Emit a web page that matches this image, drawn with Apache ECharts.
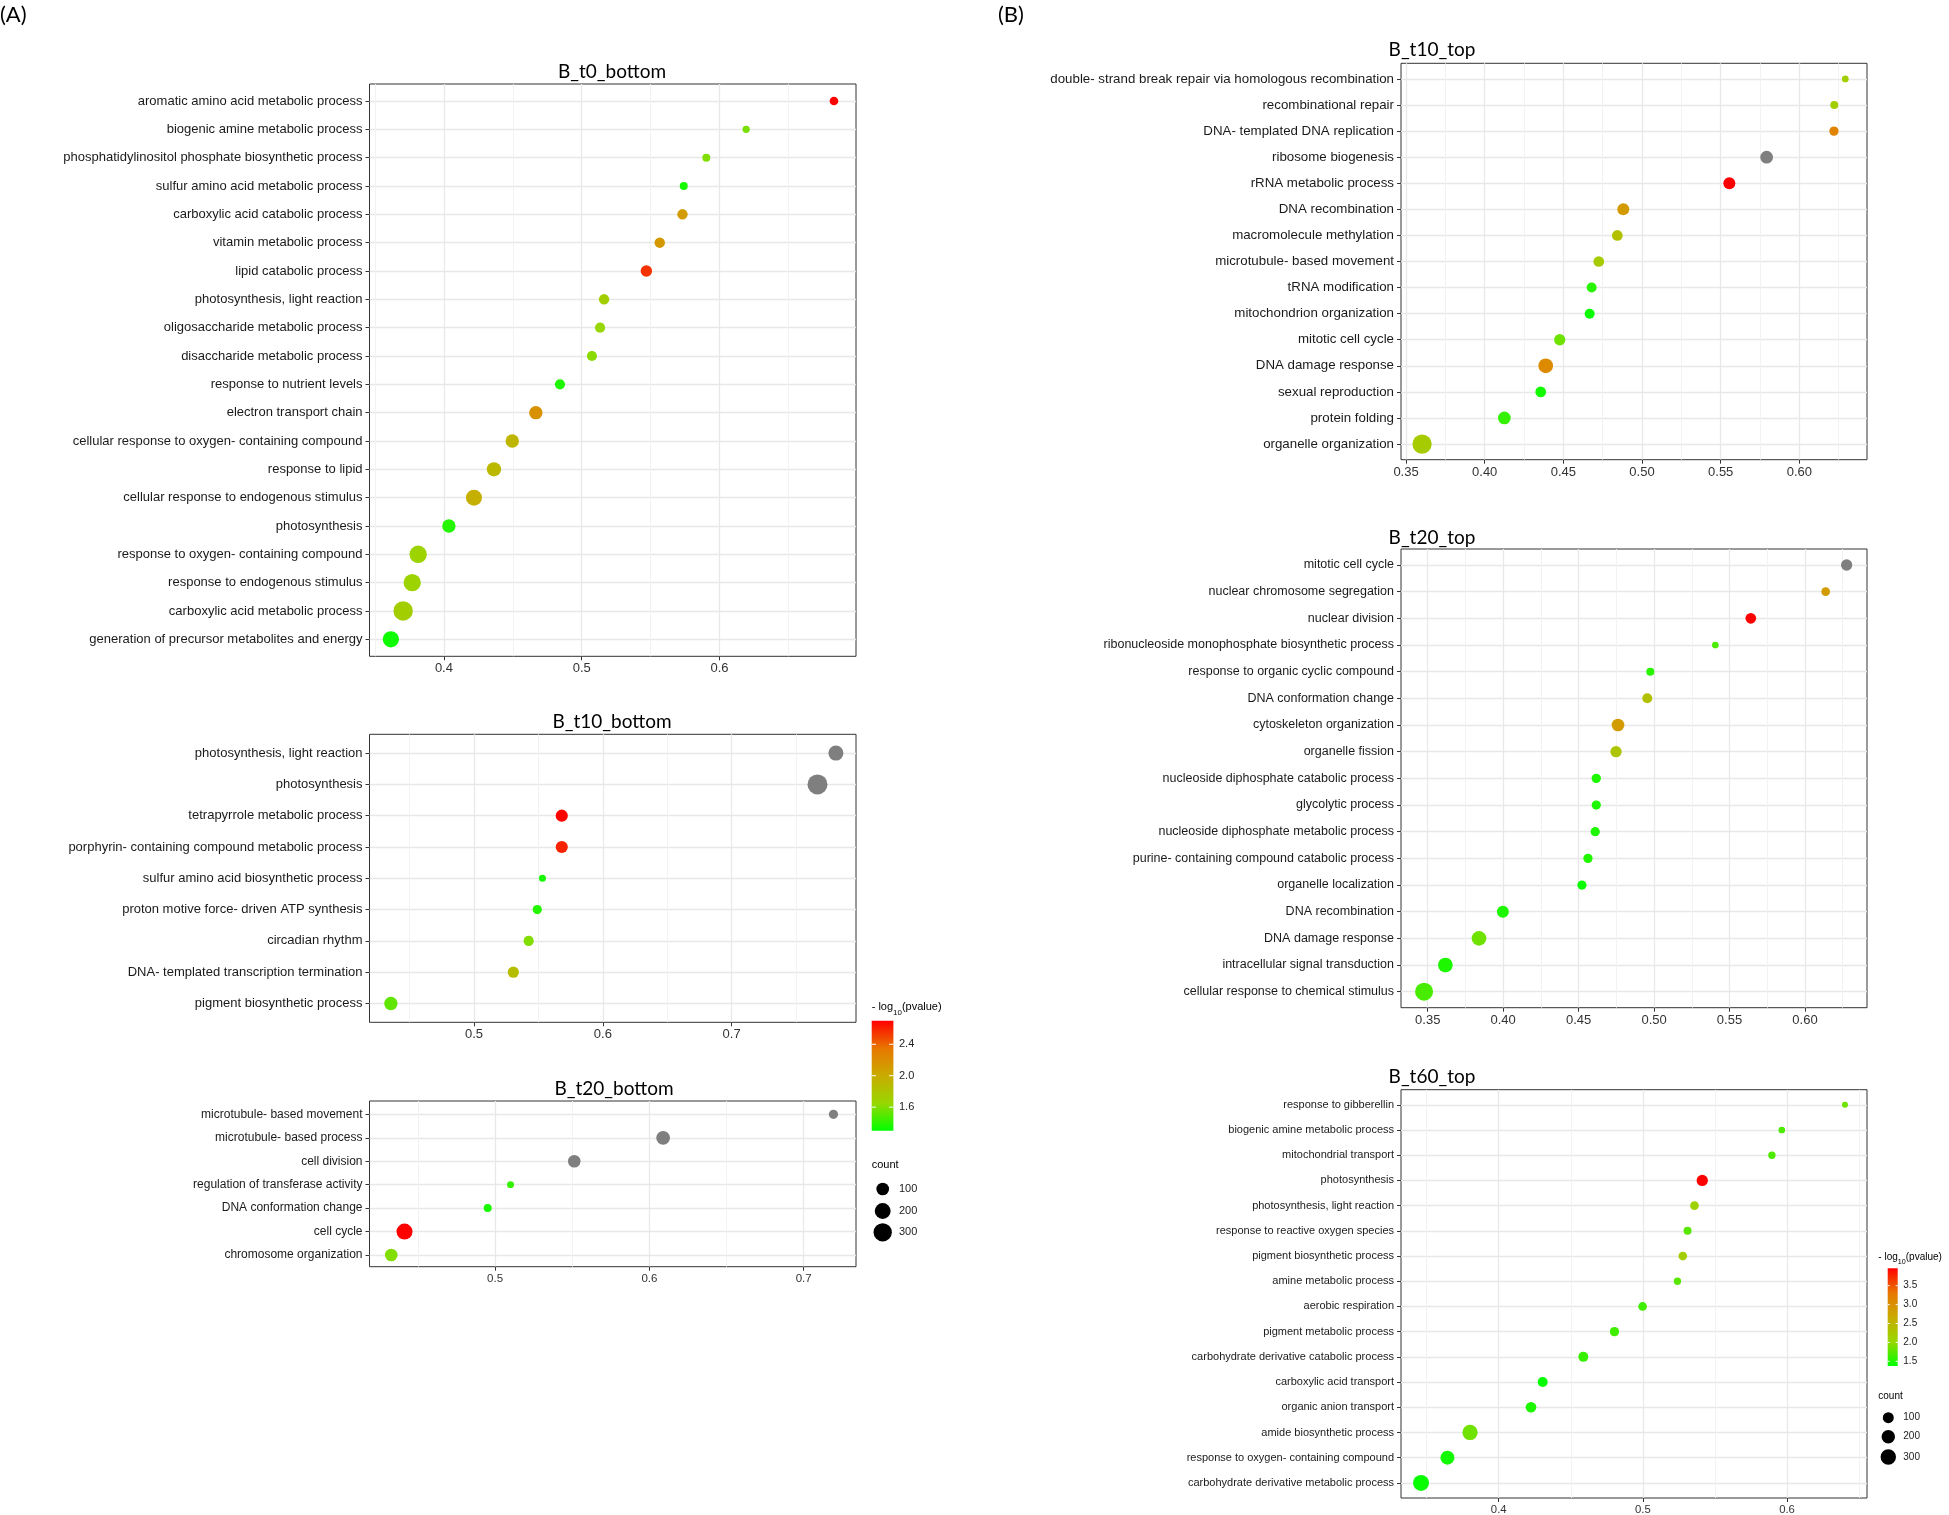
<!DOCTYPE html>
<html>
<head>
<meta charset="utf-8">
<script src="https://cdn.jsdelivr.net/npm/echarts@6/dist/echarts.min.js"></script>
<style>html,body{margin:0;padding:0;background:#fff}#c{width:1949px;height:1515px}</style>
</head>
<body>
<div id="c"></div>
<script>
// ---------------- DATA ----------------
// (A) B_t0_bottom
const t0bTerms = ["aromatic amino acid metabolic process","biogenic amine metabolic process","phosphatidylinositol phosphate biosynthetic process","sulfur amino acid metabolic process","carboxylic acid catabolic process","vitamin metabolic process","lipid catabolic process","photosynthesis, light reaction","oligosaccharide metabolic process","disaccharide metabolic process","response to nutrient levels","electron transport chain","cellular response to oxygen- containing compound","response to lipid","cellular response to endogenous stimulus","photosynthesis","response to oxygen- containing compound","response to endogenous stimulus","carboxylic acid metabolic process","generation of precursor metabolites and energy"];
const t0bRatio = [0.683,0.6193,0.5904,0.574,0.5731,0.5566,0.5469,0.5162,0.5133,0.5074,0.4842,0.4667,0.4496,0.4363,0.4218,0.4036,0.3813,0.377,0.3704,0.3615];
const t0bCount = [23,9,15,15,50,50,70,50,45,45,45,119,119,146,204,119,259,255,350,215];
const t0bLogP = [2.70,1.58,1.60,1.35,2.10,2.12,2.55,1.72,1.65,1.62,1.37,2.17,1.92,1.90,1.97,1.38,1.68,1.68,1.72,1.33];

// (A) B_t10_bottom  (null = outside colour scale, drawn grey)
const t10bTerms = ["photosynthesis, light reaction","photosynthesis","tetrapyrrole metabolic process","porphyrin- containing compound metabolic process","sulfur amino acid biosynthetic process","proton motive force- driven ATP synthesis","circadian rhythm","DNA- templated transcription termination","pigment biosynthetic process"];
const t10bRatio = [0.781,0.7667,0.5681,0.5681,0.5531,0.5491,0.5424,0.5305,0.4354];
const t10bCount = [169,380,87,87,7,30,46,65,116];
const t10bLogP = [null,null,2.70,2.60,1.35,1.38,1.60,1.86,1.52];

// (A) B_t20_bottom
const t20bTerms = ["microtubule- based movement","microtubule- based process","cell division","regulation of transferase activity","DNA conformation change","cell cycle","chromosome organization"];
const t20bRatio = [0.7193,0.6089,0.5513,0.51,0.4952,0.4413,0.4327];
const t20bCount = [30,131,97,6,15,204,97];
const t20bLogP = [null,null,null,1.42,1.35,2.70,1.60];

// (B) B_t10_top
const t10tTerms = ["double- strand break repair via homologous recombination","recombinational repair","DNA- templated DNA replication","ribosome biogenesis","rRNA metabolic process","DNA recombination","macromolecule methylation","microtubule- based movement","tRNA modification","mitochondrion organization","mitotic cell cycle","DNA damage response","sexual reproduction","protein folding","organelle organization"];
const t10tRatio = [0.6292,0.6222,0.622,0.5792,0.5555,0.4881,0.4843,0.4725,0.468,0.4667,0.4477,0.4388,0.4356,0.4125,0.3602];
const t10tCount = [8,25,51,165,136,136,90,90,69,69,110,261,90,165,568];
const t10tLogP = [2.15,2.15,3.15,null,3.96,2.88,2.36,2.2,1.55,1.42,1.85,3.06,1.45,1.6,2.2];

// (B) B_t20_top
const t20tTerms = ["mitotic cell cycle","nuclear chromosome segregation","nuclear division","ribonucleoside monophosphate biosynthetic process","response to organic cyclic compound","DNA conformation change","cytoskeleton organization","organelle fission","nucleoside diphosphate catabolic process","glycolytic process","nucleoside diphosphate metabolic process","purine- containing compound catabolic process","organelle localization","DNA recombination","DNA damage response","intracellular signal transduction","cellular response to chemical stimulus"];
const t20tRatio = [0.6276,0.6137,0.5641,0.5406,0.4975,0.4955,0.4761,0.4748,0.4617,0.4617,0.461,0.4562,0.4522,0.3998,0.384,0.3617,0.3476];
const t20tCount = [110,38,90,8,25,69,165,110,51,51,51,51,51,136,261,261,469];
const t20tLogP = [null,2.85,3.96,1.7,1.55,2.35,2.85,2.3,1.5,1.5,1.5,1.52,1.42,1.5,1.85,1.5,1.68];

// (B) B_t60_top
const t60tTerms = ["response to gibberellin","biogenic amine metabolic process","mitochondrial transport","photosynthesis","photosynthesis, light reaction","response to reactive oxygen species","pigment biosynthetic process","amine metabolic process","aerobic respiration","pigment metabolic process","carbohydrate derivative catabolic process","carboxylic acid transport","organic anion transport","amide biosynthetic process","response to oxygen- containing compound","carbohydrate derivative metabolic process"];
const t60tRatio = [0.6402,0.5964,0.5895,0.5412,0.5358,0.531,0.5277,0.524,0.4998,0.4803,0.4587,0.4305,0.4224,0.3801,0.3644,0.3461];
const t60tCount = [3,8,15,110,38,25,38,15,38,51,69,69,90,295,225,336];
const t60tLogP = [1.85,1.7,1.7,3.96,2.1,1.75,2.15,1.75,1.65,1.65,1.6,1.38,1.5,1.85,1.45,1.4];

// axis tick values
const ticksA1Major = [0.4,0.5,0.6],  ticksA1Minor = [0.35,0.45,0.55,0.65];
const ticksA2Major = [0.5,0.6,0.7],  ticksA2Minor = [0.45,0.55,0.65,0.75];
const ticksA3Major = [0.5,0.6,0.7],  ticksA3Minor = [0.45,0.55,0.65];
const ticksB12Major = [0.35,0.40,0.45,0.50,0.55,0.60], ticksB12Minor = [0.375,0.425,0.475,0.525,0.575,0.625];
const ticksB3Major = [0.4,0.5,0.6],  ticksB3Minor = [0.35,0.45,0.55,0.65];

// legend scales
const legendAColorTicks = [1.6,2.0,2.4];
const legendBColorTicks = [1.5,2.0,2.5,3.0,3.5];
const legendCounts = [100,200,300];
const scaleA = [1.30,2.70];
const scaleB = [1.376,3.96];

// ---------------- LAYOUT / STYLE ----------------
const FONT = "'Liberation Sans', Arial, Helvetica, sans-serif";
const TFONT = "Lato, 'Open Sans', sans-serif";
const gradStops = ['#00FF00','#98D700','#C9AB00','#E87600','#FF0000'];
const NA_COLOR = '#7f7f7f';
const sizeA = c => 5 + 0.77*Math.sqrt(c);
const sizeB = c => 5 + 0.6*Math.sqrt(c);

const panels = [
  {fig:'A', title:'B_t0_bottom', terms:t0bTerms, ratio:t0bRatio, count:t0bCount, logp:t0bLogP,
   grid:{left:369.5, top:84, width:486.5, height:572.3}, xmin:0.346, xmax:0.699, major:ticksA1Major, minor:ticksA1Minor, dec:1,
   tx:612, ty:72, lab:13, tick:13, padT:0.6, padB:0.6},
  {fig:'A', title:'B_t10_bottom', terms:t10bTerms, ratio:t10bRatio, count:t10bCount, logp:t10bLogP,
   grid:{left:369.5, top:734.3, width:486.5, height:288}, xmin:0.4188, xmax:0.7966, major:ticksA2Major, minor:ticksA2Minor, dec:1,
   tx:612, ty:721.5, lab:13, tick:13, padT:0.6, padB:0.6},
  {fig:'A', title:'B_t20_bottom', terms:t20bTerms, ratio:t20bRatio, count:t20bCount, logp:t20bLogP,
   grid:{left:369.5, top:1101, width:486.5, height:165.7}, xmin:0.4186, xmax:0.7339, major:ticksA3Major, minor:ticksA3Minor, dec:1,
   tx:614, ty:1089, lab:12, tick:11.5, padT:0.57, padB:0.5},
  {fig:'B', title:'B_t10_top', terms:t10tTerms, ratio:t10tRatio, count:t10tCount, logp:t10tLogP,
   grid:{left:1401, top:63.3, width:466, height:396.4}, xmin:0.3468, xmax:0.643, major:ticksB12Major, minor:ticksB12Minor, dec:2,
   tx:1432, ty:50, lab:13.3, tick:13, padT:0.6, padB:0.6},
  {fig:'B', title:'B_t20_top', terms:t20tTerms, ratio:t20tRatio, count:t20tCount, logp:t20tLogP,
   grid:{left:1401, top:549, width:466, height:458.7}, xmin:0.3323, xmax:0.6411, major:ticksB12Major, minor:ticksB12Minor, dec:2,
   tx:1432, ty:538, lab:12.5, tick:13, padT:0.6, padB:0.6},
  {fig:'B', title:'B_t60_top', terms:t60tTerms, ratio:t60tRatio, count:t60tCount, logp:t60tLogP,
   grid:{left:1401, top:1089.7, width:466, height:411}, xmin:0.3322, xmax:0.6555, major:ticksB3Major, minor:ticksB3Minor, dec:1,
   tx:1432, ty:1077, lab:11, tick:11.3, padT:0.6, padB:0.6}
];

const grids = [], xAxes = [], yAxes = [], series = [], graphics = [];
const seriesA = [], seriesB = [];

panels.forEach((p, i) => {
  const n = p.terms.length;
  const idx = p.terms.map((_, k) => k);
  grids.push(Object.assign({show:true, borderColor:'#333333', borderWidth:1, backgroundColor:'#fff', containLabel:false}, p.grid));
  xAxes.push({
    type:'value', gridIndex:i, min:p.xmin, max:p.xmax, position:'bottom',
    axisLine:{show:false, onZero:false},
    axisTick:{show:true, inside:false, length:4, lineStyle:{color:'#333', width:1}, customValues:p.major},
    axisLabel:{customValues:p.major, formatter:v => Number(v).toFixed(p.dec), fontSize:p.tick, fontFamily:FONT, color:'#333', margin:6},
    splitLine:{show:true, lineStyle:{color:'#e8e8e8', width:1.3}}
  });
  xAxes.push({
    type:'value', gridIndex:i, min:p.xmin, max:p.xmax, position:'top',
    axisLine:{show:false, onZero:false},
    axisTick:{show:false, length:0, lineStyle:{color:'rgba(0,0,0,0)'}, customValues:p.minor},
    axisLabel:{show:false},
    splitLine:{show:true, lineStyle:{color:'#f0f0f0', width:0.9}}
  });
  yAxes.push({
    type:'value', gridIndex:i, inverse:true, min:-p.padT, max:n - 1 + p.padB,
    axisLine:{show:false, onZero:false},
    axisTick:{show:true, inside:false, length:4, lineStyle:{color:'#333', width:1}, customValues:idx},
    axisLabel:{customValues:idx, formatter:v => p.terms[Math.round(v)], fontSize:p.lab, fontFamily:FONT, color:'#1a1a1a', margin:7},
    splitLine:{show:true, lineStyle:{color:'#e8e8e8', width:1.3}}
  });
  const sz = p.fig === 'A' ? sizeA : sizeB;
  const valued = [], na = [];
  idx.forEach(k => {
    if (p.logp[k] === null) na.push([p.ratio[k], k, p.count[k]]);
    else valued.push([p.ratio[k], k, p.count[k], p.logp[k]]);
  });
  (p.fig === 'A' ? seriesA : seriesB).push(series.length);
  series.push({type:'scatter', xAxisIndex:2*i, yAxisIndex:i, data:valued, symbol:'circle',
    symbolSize:v => sz(v[2]), itemStyle:{opacity:1}, silent:true, z:3});
  series.push({type:'scatter', xAxisIndex:2*i, yAxisIndex:i, data:na, symbol:'circle',
    symbolSize:v => sz(v[2]), itemStyle:{color:NA_COLOR, opacity:1}, silent:true, z:3});
  graphics.push({type:'text', x:p.tx, y:p.ty, style:{text:p.title, fontFamily:TFONT, fontSize:19, fill:'#000', align:'center', verticalAlign:'middle'}});
});

graphics.push({type:'text', x:0, y:15, style:{text:'(A)', fontFamily:TFONT, fontSize:22, fill:'#000', align:'left', verticalAlign:'middle'}});
graphics.push({type:'text', x:998, y:15, style:{text:'(B)', fontFamily:TFONT, fontSize:22, fill:'#000', align:'left', verticalAlign:'middle'}});

function legend(L) {
  const g = [];
  g.push({type:'text', x:L.titleX, y:L.titleY, style:{
    text:'{a|- log}{b|10}{a|(pvalue)}', rich:{a:{fontSize:L.fs, fontFamily:FONT, fill:'#000', lineHeight:L.fs+4}, b:{fontSize:L.fs*0.72, fontFamily:FONT, fill:'#000', lineHeight:L.fs+4, verticalAlign:'bottom', padding:[0,0,-2,0]}},
    align:'left', verticalAlign:'middle'}});
  const stops = gradStops.slice().reverse().map((c, k) => ({offset:k/(gradStops.length-1), color:c}));
  g.push({type:'rect', shape:{x:L.barX, y:L.barY, width:L.barW, height:L.barH},
    style:{fill:{type:'linear', x:0, y:0, x2:0, y2:1, colorStops:stops}}});
  L.ticks.forEach(v => {
    const y = L.barY + (L.max - v) / (L.max - L.min) * L.barH;
    const tl = L.barW/5;
    g.push({type:'line', shape:{x1:L.barX, y1:y, x2:L.barX+tl, y2:y}, style:{stroke:'#fff', lineWidth:1}});
    g.push({type:'line', shape:{x1:L.barX+L.barW-tl, y1:y, x2:L.barX+L.barW, y2:y}, style:{stroke:'#fff', lineWidth:1}});
    g.push({type:'text', x:L.labX, y:y, style:{text:v.toFixed(1), fontSize:L.fs, fontFamily:FONT, fill:'#222', align:'left', verticalAlign:'middle'}});
  });
  g.push({type:'text', x:L.titleX, y:L.countY, style:{text:'count', fontSize:L.fs, fontFamily:FONT, fill:'#000', align:'left', verticalAlign:'middle'}});
  legendCounts.forEach((c, k) => {
    const y = L.dotY[k];
    g.push({type:'circle', shape:{cx:L.dotX, cy:y, r:L.size(c)/2}, style:{fill:'#000'}});
    g.push({type:'text', x:L.labX, y:y, style:{text:String(c), fontSize:L.fs, fontFamily:FONT, fill:'#222', align:'left', verticalAlign:'middle'}});
  });
  return g;
}
graphics.push(...legend({titleX:871.7, titleY:1007, barX:871.7, barY:1020.7, barW:21.7, barH:110, min:scaleA[0], max:scaleA[1],
  ticks:legendAColorTicks, labX:899, fs:11, countY:1165, dotX:882.7, dotY:[1189,1211,1232.3], size:sizeA}));
graphics.push(...legend({titleX:1878.3, titleY:1257, barX:1887.7, barY:1268.3, barW:10, barH:97.7, min:scaleB[0], max:scaleB[1],
  ticks:legendBColorTicks, labX:1903.3, fs:10, countY:1396.7, dotX:1888.3, dotY:[1417.7,1436.7,1457], size:sizeB}));

const chart = echarts.init(document.getElementById('c'), null, {renderer:'canvas'});
chart.setOption({
  animation:false,
  backgroundColor:'#fff',
  grid:grids, xAxis:xAxes, yAxis:yAxes, series:series,
  visualMap:[
    {type:'continuous', show:false, dimension:3, seriesIndex:seriesA, min:scaleA[0], max:scaleA[1], inRange:{color:gradStops}},
    {type:'continuous', show:false, dimension:3, seriesIndex:seriesB, min:scaleB[0], max:scaleB[1], inRange:{color:gradStops}}
  ],
  graphic:graphics
});
</script>
</body>
</html>
